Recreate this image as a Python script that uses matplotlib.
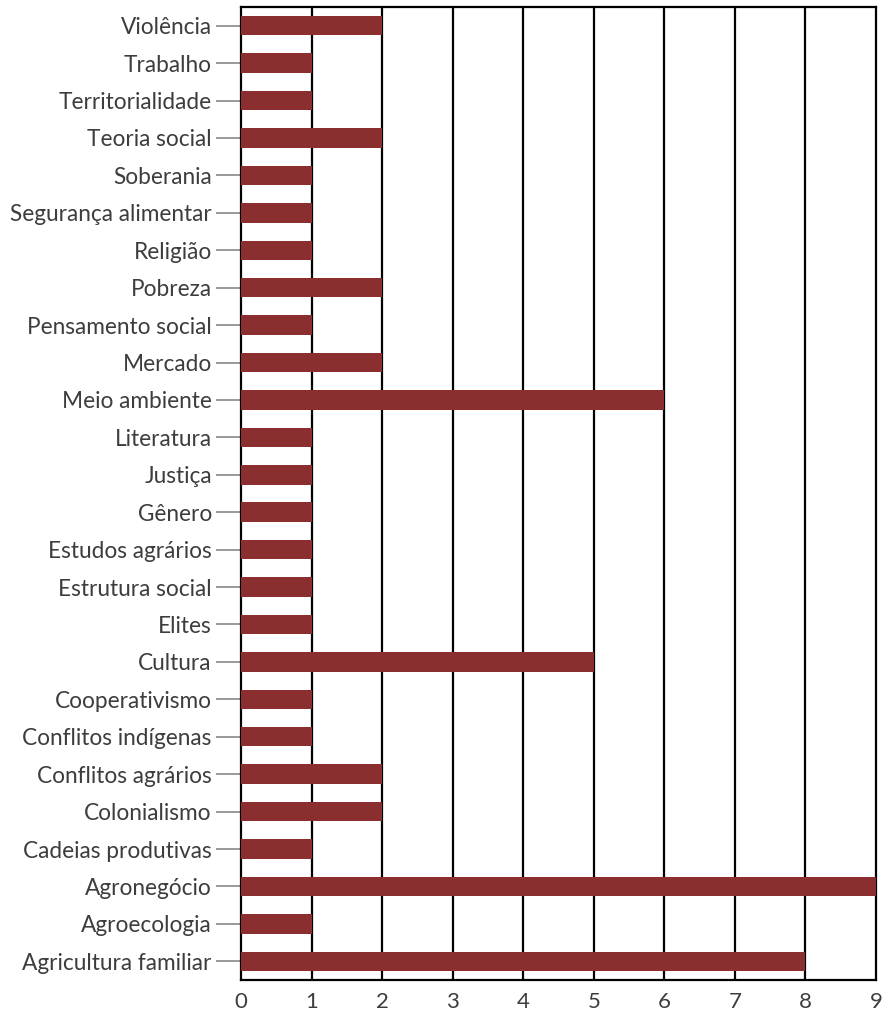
import matplotlib.pyplot as plt

# temas, de cima para baixo
temas = [
    "Violência", "Trabalho", "Territorialidade", "Teoria social", "Soberania",
    "Segurança alimentar", "Religião", "Pobreza", "Pensamento social", "Mercado",
    "Meio ambiente", "Literatura", "Justiça", "Gênero", "Estudos agrários",
    "Estrutura social", "Elites", "Cultura", "Cooperativismo", "Conflitos indígenas",
    "Conflitos agrários", "Colonialismo", "Cadeias produtivas", "Agronegócio",
    "Agroecologia", "Agricultura familiar",
]
contagem = [2, 1, 1, 2, 1, 1, 1, 2, 1, 2, 6, 1, 1, 1, 1, 1, 1, 5, 1, 1, 2, 2, 1, 9, 1, 8]
ticks_x = list(range(0, 10))

COR_BARRA = "#8a2e2f"
COR_TEXTO = "#3d3d3d"

plt.rcParams["font.family"] = ["Lato", "DejaVu Sans"]

fig = plt.figure(figsize=(8.82, 10.17), dpi=100)
ax = fig.add_axes([241 / 882, 1 - 980 / 1017, 635 / 882, 973 / 1017])

pos = list(range(len(temas)))
ax.barh(pos, contagem, height=0.52, color=COR_BARRA, zorder=3)

ax.set_ylim(len(temas) - 0.5, -0.5)
ax.set_xlim(0, 9)
ax.set_yticks(pos)
ax.set_yticklabels(temas)
ax.set_xticks(ticks_x)

for x in ticks_x[1:-1]:
    ax.axvline(x, color="black", lw=1.6, zorder=1)

for s in ax.spines.values():
    s.set_color("black")
    s.set_linewidth(1.6)

ax.tick_params(axis="y", length=18, width=1.2, color="#888888", pad=3,
               labelsize=16.3, labelcolor=COR_TEXTO)
ax.tick_params(axis="x", length=0, pad=9, labelsize=16, labelcolor=COR_TEXTO)

fig.savefig("out.png", dpi=100)
